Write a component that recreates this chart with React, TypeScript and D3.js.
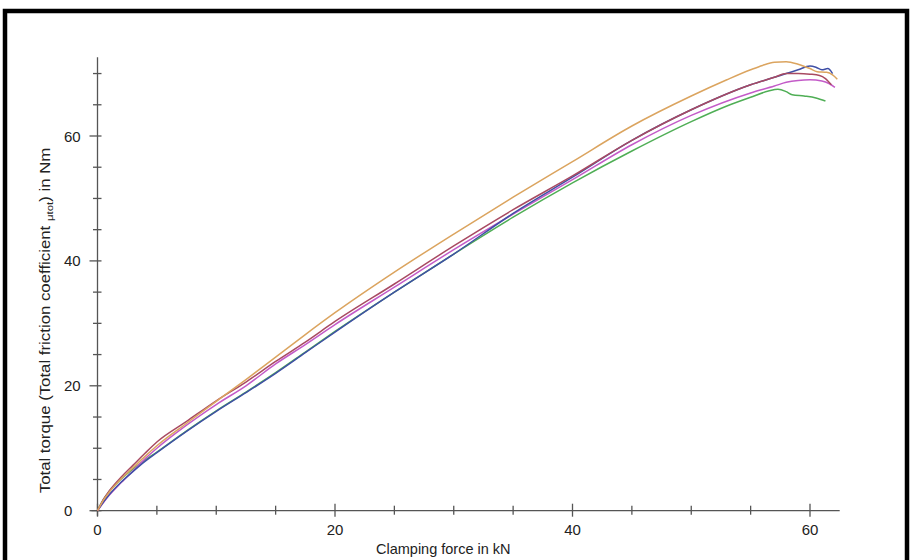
import React from "react";
import * as d3 from "d3";

const orangeX = [0, 0.5, 1, 2, 3, 4, 5, 7.5, 10, 12.5, 15, 17.5, 20, 25, 30, 35, 40, 45, 50, 53, 55, 56, 57, 58, 59, 60, 60.6, 61.4, 61.9, 62.3];
const orangeY = [0, 1.7, 3.0, 5.1, 6.9, 8.7, 10.4, 14.0, 17.5, 21.0, 24.6, 28.2, 31.7, 38.2, 44.3, 50.2, 55.9, 61.6, 66.4, 69.0, 70.6, 71.3, 71.8, 71.9, 71.5, 70.8, 70.3, 70.2, 69.8, 69.1];

const redX = [0, 0.5, 1, 2, 3, 4, 5, 7.5, 10, 12.5, 15, 17.5, 20, 25, 30, 35, 40, 45, 50, 55, 57, 58, 59, 60, 60.8, 61.3, 61.8];
const redY = [0, 1.8, 3.2, 5.4, 7.3, 9.2, 11.0, 14.3, 17.6, 20.6, 23.9, 27.0, 30.3, 36.3, 42.4, 48.2, 53.6, 59.3, 64.2, 68.2, 69.4, 70.0, 70.0, 69.9, 69.7, 69.2, 68.2];

const blueX = [0, 0.5, 1, 2, 3, 4, 5, 7.5, 10, 12.5, 15, 17.5, 20, 25, 30, 35, 40, 45, 50, 55, 57, 58, 59, 60, 60.5, 61, 61.5, 61.9];
const blueY = [0, 1.4, 2.6, 4.6, 6.3, 7.9, 9.3, 12.7, 15.9, 18.9, 22.0, 25.3, 28.6, 35.0, 41.1, 47.6, 53.4, 59.3, 64.2, 68.2, 69.4, 70.0, 70.6, 71.2, 71.0, 70.6, 70.8, 70.0];

const magentaX = [0, 0.5, 1, 2, 3, 4, 5, 7.5, 10, 12.5, 15, 17.5, 20, 25, 30, 35, 40, 45, 50, 55, 57, 58, 59, 60, 61, 61.6, 62.1];
const magentaY = [0, 1.3, 2.5, 4.5, 6.4, 8.3, 10.0, 13.7, 17.0, 20.0, 23.5, 26.6, 29.8, 35.8, 41.8, 47.5, 53.0, 58.6, 63.3, 66.9, 68.0, 68.6, 68.9, 69.0, 68.8, 68.4, 67.8];

const greenX = [0, 0.5, 1, 2, 3, 4, 5, 7.5, 10, 12.5, 15, 17.5, 20, 25, 30, 35, 40, 45, 50, 53, 55, 56.5, 57.3, 58, 58.5, 59.5, 60.5, 61.3];
const greenY = [0, 1.8, 3.1, 5.1, 6.7, 8.1, 9.4, 12.8, 16.0, 19.0, 22.1, 25.4, 28.7, 35.0, 41.1, 47.0, 52.5, 57.6, 62.3, 64.8, 66.2, 67.2, 67.5, 67.1, 66.6, 66.4, 66.1, 65.6];

const xTicks = [0, 5, 10, 15, 20, 25, 30, 35, 40, 45, 50, 55, 60];
const yTicks = [0, 5, 10, 15, 20, 25, 30, 35, 40, 45, 50, 55, 60, 65, 70];
const xLabels = [0, 20, 40, 60];
const yLabels = [0, 20, 40, 60];

const series = [
  { name: "green", xs: greenX, ys: greenY, color: "#4fae55" },
  { name: "magenta", xs: magentaX, ys: magentaY, color: "#c35bc8" },
  { name: "blue", xs: blueX, ys: blueY, color: "#3f4fa6" },
  { name: "red", xs: redX, ys: redY, color: "#a84a62" },
  { name: "orange", xs: orangeX, ys: orangeY, color: "#dba45f" },
];

export default function App() {
  const x = d3.scaleLinear().domain([0, 60]).range([97.5, 810]);
  const y = d3.scaleLinear().domain([0, 60]).range([510.7, 136]);
  const line = d3
    .line<[number, number]>()
    .x((d) => x(d[0]))
    .y((d) => y(d[1]))
    .curve(d3.curveMonotoneX);
  const axisColor = "#555";
  const font = "'Liberation Sans', Arial, sans-serif";
  const x0 = x(0);
  const y0 = y(0);

  return (
    <svg
      width={910}
      height={560}
      style={{ position: "absolute", left: 0, top: 0, background: "#fff" }}
      fontFamily={font}
    >
      <rect x={0} y={0} width={910} height={560} fill="#fff" />
      <rect x={5} y={11} width={902} height={600} fill="none" stroke="#000" strokeWidth={4.5} />

      {/* axes */}
      <line x1={x0 - 6} x2={x(62.5)} y1={y0} y2={y0} stroke={axisColor} strokeWidth={1.3} />
      <line x1={x0} x2={x0} y1={y0 + 5} y2={y(72.6)} stroke={axisColor} strokeWidth={1.3} />

      {xTicks.map((t) => {
        const major = t % 20 === 0;
        return (
          <line
            key={"xt" + t}
            x1={x(t)}
            x2={x(t)}
            y1={y0 - (major ? 7 : 5)}
            y2={y0 + (major ? 6 : 4)}
            stroke={axisColor}
            strokeWidth={1.3}
          />
        );
      })}
      {yTicks.map((t) => {
        const major = t % 20 === 0;
        return (
          <line
            key={"yt" + t}
            x1={x0 - (major ? 8 : 4.5)}
            x2={x0 + 4}
            y1={y(t)}
            y2={y(t)}
            stroke={axisColor}
            strokeWidth={1.3}
          />
        );
      })}

      {xLabels.map((t) => (
        <text key={"xl" + t} x={x(t)} y={535} textAnchor="middle" fontSize={15} fill="#222">
          {t}
        </text>
      ))}
      {yLabels.map((t) => (
        <text key={"yl" + t} x={64} y={y(t) + 5.5} textAnchor="start" fontSize={15} fill="#222">
          {t}
        </text>
      ))}

      <text x={376} y={554} fontSize={14.5} fill="#222">
        Clamping force in kN
      </text>
      <text
        transform={`translate(50,${320.5}) rotate(-90) scale(1.2,1)`}
        textAnchor="middle"
        fontSize={14}
        fill="#222"
      >
        Total torque (Total friction coefficient{" "}
        <tspan fontSize={9.5} dy={2.5}>μtot</tspan>
        <tspan dy={-2.5}>) in Nm</tspan>
      </text>

      {series.map((s) => (
        <path
          key={s.name}
          d={line(s.xs.map((v, i) => [v, s.ys[i]] as [number, number])) || ""}
          fill="none"
          stroke={s.color}
          strokeWidth={1.5}
        />
      ))}
    </svg>
  );
}
